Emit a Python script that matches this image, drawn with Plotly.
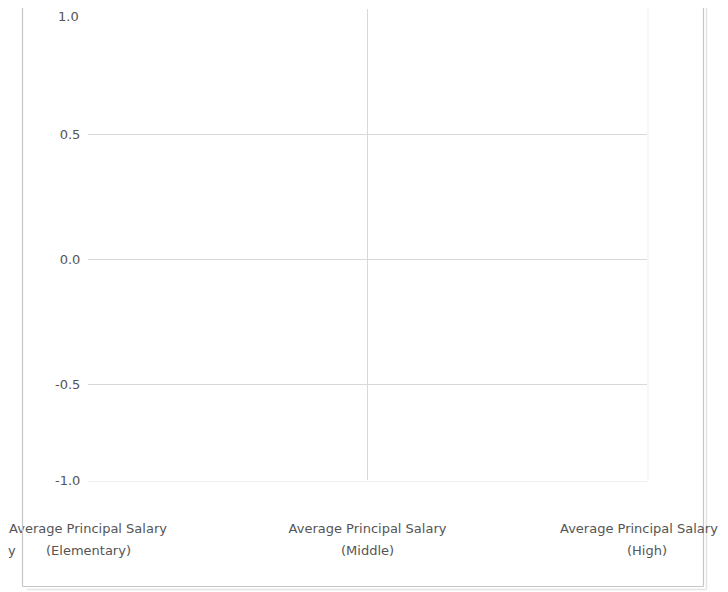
import plotly.graph_objects as go

# ---- data ----
categories = [
    "Average Principal Salary (Elementary)",
    "Average Principal Salary (Middle)",
    "Average Principal Salary (High)",
]
label_main = ["Average Principal Salary", "Average Principal Salary", "Average Principal Salary"]
label_sub = ["(Elementary)", "(Middle)", "(High)"]
values = [None, None, None]  # the reference draws no data marks
y_bottom = -0.884  # value at the plot's bottom edge (labelled "-1.0" in the reference)
y_top = 1.0
y_tickvals = [y_bottom, -0.5, 0.0, 0.5, y_top]
y_ticktext = ["-1.0", "-0.5", "0.0", "0.5", "1.0"]

# page has an 8px body margin, so figure coords = page coords - 8
OFF = 8
W, H = 728 - OFF, 592 - OFF
L, R, T, B = 88 - OFF, 647 - OFF, 9 - OFF, 480 - OFF  # plot area in figure px


def px(x):
    return (x - OFF - L) / (R - L)


def py(y):
    return (B - (y - OFF)) / (B - T)


font_family = "DejaVu Sans, Verdana, sans-serif"
txt = "#555555"
fnt = dict(family=font_family, size=13, color=txt)

fig = go.Figure()
fig.add_trace(go.Scatter(x=categories, y=values, mode="markers", showlegend=False,
                         hoverinfo="skip"))

shapes = []
panel = "#c6c6c6"
shadow = "#e4e4e4"
ybot = 586.5
shapes.append(dict(type="line", xref="paper", yref="paper", x0=px(22.5), x1=px(22.5),
                   y0=py(ybot), y1=py(-5), line=dict(color=panel, width=1.2)))
shapes.append(dict(type="line", xref="paper", yref="paper", x0=px(22.5), x1=px(703.5),
                   y0=py(ybot), y1=py(ybot), line=dict(color=panel, width=1.2)))
shapes.append(dict(type="line", xref="paper", yref="paper", x0=px(703.5), x1=px(703.5),
                   y0=py(ybot), y1=py(-5), line=dict(color=panel, width=1.2)))
shapes.append(dict(type="line", xref="paper", yref="paper", x0=px(27), x1=px(706),
                   y0=py(ybot + 3), y1=py(ybot + 3), line=dict(color=shadow, width=1.5)))
shapes.append(dict(type="line", xref="paper", yref="paper", x0=px(706.5), x1=px(706.5),
                   y0=py(ybot + 3), y1=py(-5), line=dict(color=shadow, width=1.5)))
shapes.append(dict(type="line", xref="paper", yref="paper", x0=px(648), x1=px(648),
                   y0=py(481), y1=py(9), line=dict(color="#efefef", width=1)))
shapes.append(dict(type="line", xref="paper", yref="paper", x0=px(88), x1=px(648),
                   y0=py(481.5), y1=py(481.5), line=dict(color="#f0f0f0", width=1)))

annotations = [
    dict(text=s, xref="x", yref="paper", x=i, y=py(550), xanchor="center", yanchor="middle",
         showarrow=False, font=fnt)
    for i, s in enumerate(label_sub)
]
# last category's first line: nudged left so it is not cut by the window edge
annotations.append(dict(text=label_main[-1], xref="x", yref="paper", x=2, y=py(528),
                        xanchor="center", yanchor="middle", xshift=-8, showarrow=False,
                        font=fnt))
# top tick label would be half cut at the page edge: draw it just below the top instead
annotations.append(dict(text=y_ticktext[-1], xref="paper", yref="paper", x=px(81), y=1.0,
                        yshift=2, xanchor="right", yanchor="top", showarrow=False,
                        font=fnt))
# tail of a label cut by the left edge in the reference
annotations.append(dict(text="y", xref="paper", yref="paper", x=px(18), y=py(550),
                        xanchor="right", yanchor="middle", showarrow=False,
                        font=fnt))

fig.update_layout(
    width=W, height=H,
    margin=dict(l=L, r=W - R, t=T, b=H - B, pad=0),
    paper_bgcolor="white", plot_bgcolor="white",
    font=fnt,
    shapes=shapes,
    annotations=annotations,
    xaxis=dict(
        type="category", range=[0, 2], showgrid=True, gridcolor="#d8d8d8", gridwidth=1,
        zeroline=False, showline=False,
        tickvals=categories, ticktext=label_main[:-1] + [""], ticklabeloverflow="allow",
        ticks="outside", ticklen=36, tickcolor="rgba(0,0,0,0)",
        tickfont=fnt,
    ),
    yaxis=dict(
        range=[y_bottom, y_top], tickvals=y_tickvals,
        ticktext=y_ticktext[:-1] + [""],
        showgrid=True, gridcolor="#d8d8d8", gridwidth=1,
        zeroline=False, showline=False,
        ticks="outside", ticklen=4, tickcolor="rgba(0,0,0,0)",
        tickfont=fnt,
    ),
)

fig.write_html("out.html")
